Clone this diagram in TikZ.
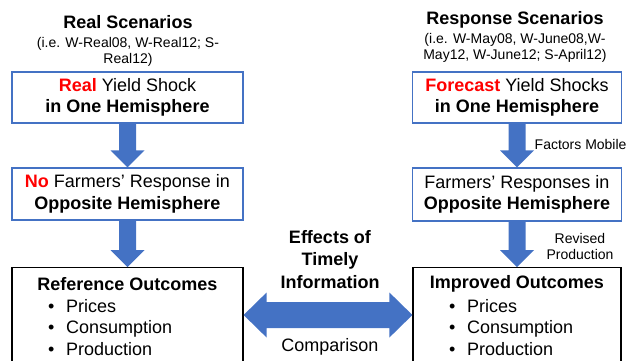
\documentclass[tikz,border=0pt]{standalone}
\usepackage{fontspec}
\setmainfont{Liberation Sans}
\usetikzlibrary{calc}
\definecolor{arrowblue}{HTML}{4472C4}
\definecolor{boxblue}{HTML}{4472C4}
\definecolor{hired}{HTML}{FF0000}

% block arrow pointing down from the bottom of #1 to the top of #2
\newcommand\blkdown[2]{%
  \fill[blockarrow] ($(#1.south)+(-8.5pt,0pt)$)
    -- ($(#2.north)+(-8.5pt,17pt)$) -- ($(#2.north)+(-17pt,17pt)$)
    -- (#2.north)
    -- ($(#2.north)+(17pt,17pt)$) -- ($(#2.north)+(8.5pt,17pt)$)
    -- ($(#1.south)+(8.5pt,0pt)$) -- cycle;}

\begin{document}
\begin{tikzpicture}[x=1pt,y=-1pt,
  big/.style={font=\fontsize{18}{21.5}\selectfont, align=center, inner sep=0pt},
  bigbold/.style={font=\fontsize{18}{22.5}\selectfont\bfseries, align=center, inner sep=0pt},
  small/.style={font=\fontsize{14}{16}\selectfont, align=center, inner sep=0pt},
  bluebox/.style={draw=boxblue, line width=1.2pt, fill=white, minimum height=51pt,
    inner sep=0pt, font=\fontsize{18}{21.5}\selectfont, align=center},
  blackbox/.style={draw=black, line width=1.2pt, fill=white, minimum height=110pt, inner sep=0pt},
  blockarrow/.style={fill=arrowblue, draw=none},
  bullets/.style={font=\fontsize{18}{21.5}\selectfont, align=left, inner sep=0pt, anchor=west},
]
\useasboundingbox (0,0) rectangle (627,360);
\clip (0,0) rectangle (627,360);

% column headings
\node[bigbold] (hl) at (128,22.5) {Real Scenarios};
\node[small] (sl) at (128,51.5) {(i.e. W-Real08, W-Real12; S-\\Real12)};
\node[bigbold] (hr) at (515,19.5) {Response Scenarios};
\node[small] (sr) at (515,48) {(i.e. W-May08, W-June08,W-\\May12, W-June12; S-April12)};

% left column
\node[bluebox, minimum width=231pt] (lt) at (127.5,97.5)
  {\textcolor{hired}{\textbf{Real}} Yield Shock\\\textbf{in One Hemisphere}};
\node[bluebox, minimum width=231pt, minimum height=52pt] (lm) at (127.5,194)
  {\textcolor{hired}{\textbf{No}} Farmers’ Response in\\\textbf{Opposite Hemisphere}};
\node[blackbox, minimum width=231pt, anchor=north] (lb) at (127.5,267) {};
\node[bigbold] (lbt) at (127.5,284) {Reference Outcomes};
\node[bullets] (lbl) at (48,327.5)
  {\makebox[18pt][l]{•}Prices\\\makebox[18pt][l]{•}Consumption\\\makebox[18pt][l]{•}Production};

% right column
\node[bluebox, minimum width=209pt] (rt) at (517,97.5)
  {\textcolor{hired}{\textbf{Forecast}} Yield Shocks\\\textbf{in One Hemisphere}};
\node[bluebox, minimum width=209pt, minimum height=53pt] (rm) at (517,194.5)
  {Farmers’ Responses in\\\textbf{Opposite Hemisphere}};
\node[blackbox, minimum width=208pt, anchor=north] (rb) at (517,267) {};
\node[bigbold] (rbt) at (517,284) {Improved Outcomes};
\node[bullets] (rbl) at (449,327.5)
  {\makebox[18pt][l]{•}Prices\\\makebox[18pt][l]{•}Consumption\\\makebox[18pt][l]{•}Production};

% vertical block arrows
\blkdown{lt}{lm}
\blkdown{lm}{lb}
\blkdown{rt}{rm}
\blkdown{rm}{rb}

% arrow labels
\node[small, anchor=west] (fm) at (534.5,144) {Factors Mobile};
\node[small] (rp) at (580,246) {Revised\\Production};

% double-headed comparison arrow
\coordinate (dl) at ($(lb.north east)+(0pt,-48pt)$);
\coordinate (dr) at ($(rb.north west)+(0pt,-48pt)$);
\fill[blockarrow] (dl) -- ($(dl)+(23pt,22.5pt)$) -- ($(dl)+(23pt,13pt)$)
  -- ($(dr)+(-23pt,13pt)$) -- ($(dr)+(-23pt,22.5pt)$) -- (dr)
  -- ($(dr)+(-23pt,-22.5pt)$) -- ($(dr)+(-23pt,-13pt)$)
  -- ($(dl)+(23pt,-13pt)$) -- ($(dl)+(23pt,-22.5pt)$) -- cycle;
\node[bigbold] (eff) at (330,259.5) {Effects of\\Timely\\Information};
\node[big] (cmp) at (330,347) {Comparison};
\end{tikzpicture}
\end{document}
